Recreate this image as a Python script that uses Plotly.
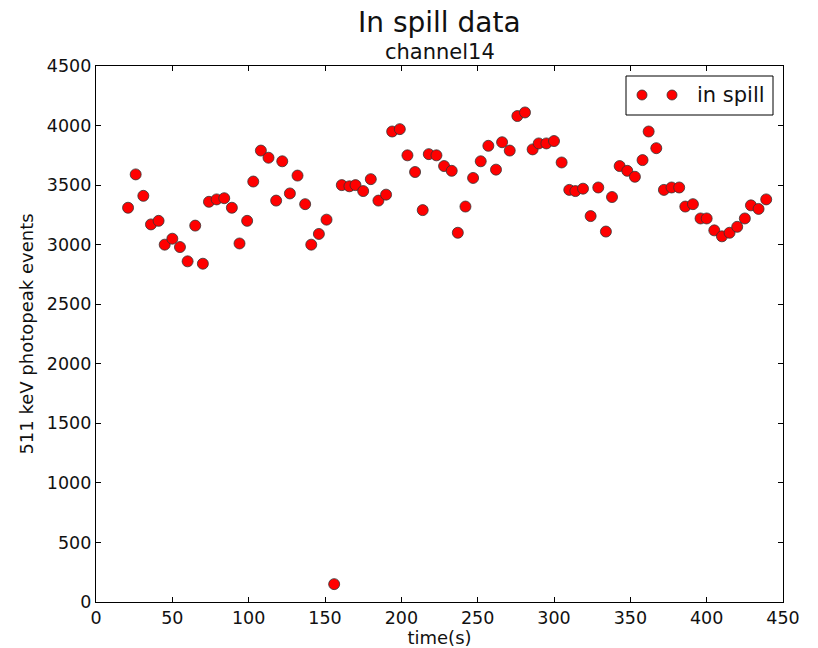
import plotly.graph_objects as go

time_s = [21, 26, 31, 36, 41, 45, 50, 55, 60, 65, 70, 74, 79, 84, 89, 94, 99, 103, 108, 113,
          118, 122, 127, 132, 137, 141, 146, 151, 156, 161, 166, 170, 175, 180, 185, 190, 194, 199,
          204, 209, 214, 218, 223, 228, 233, 237, 242, 247, 252, 257, 262, 266, 271, 276, 281, 286,
          290, 295, 300, 305, 310, 314, 319, 324, 329, 334, 338, 343, 348, 353, 358, 362, 367, 372,
          377, 382, 386, 391, 396, 400, 405, 410, 415, 420, 425, 429, 434, 439]
events = [3310, 3590, 3410, 3170, 3200, 3000, 3050, 2980, 2860, 3160, 2840, 3360, 3380, 3390,
          3310, 3010, 3200, 3530, 3790, 3730, 3370, 3700, 3430, 3580, 3340, 3000, 3090, 3210,
          150, 3500, 3490, 3500, 3450, 3550, 3370, 3420, 3950, 3970, 3750, 3610, 3290, 3760,
          3750, 3660, 3620, 3100, 3320, 3560, 3700, 3830, 3630, 3860, 3790, 4080, 4110, 3800,
          3850, 3850, 3870, 3690, 3460, 3450, 3470, 3240, 3480, 3110, 3400, 3660, 3620, 3570,
          3710, 3950, 3810, 3460, 3480, 3480, 3320, 3340, 3220, 3220, 3120, 3070, 3100, 3150,
          3220, 3330, 3300, 3380]
x_ticks = [0, 50, 100, 150, 200, 250, 300, 350, 400, 450]
y_ticks = [0, 500, 1000, 1500, 2000, 2500, 3000, 3500, 4000, 4500]

FONT = "DejaVu Sans"
W, H = 818, 648
ML, MR, MT, MB = 96, 35, 66, 46
PW, PH = W - ML - MR, H - MT - MB

fig = go.Figure()
fig.add_trace(go.Scatter(
    x=time_s, y=events, mode="markers", name="in spill",
    marker=dict(color="#ff0000", size=11, line=dict(color="#333333", width=0.8)),
    showlegend=False,
))

axis_common = dict(
    showgrid=False, zeroline=False, showline=True, linecolor="black", linewidth=1.3,
    mirror="ticks", ticks="inside", ticklen=5, tickwidth=1, tickcolor="black",
    tickfont=dict(family=FONT, size=17.5, color="#111111"), automargin=False,
)
fig.update_xaxes(range=[0, 450], tickvals=x_ticks, ticktext=[str(v) for v in x_ticks],
                 title=dict(text="time(s)", font=dict(family=FONT, size=18, color="#111111"), standoff=1),
                 **axis_common)
fig.update_yaxes(range=[0, 4500], tickvals=y_ticks, ticktext=[str(v) for v in y_ticks],
                 title=dict(text="511 keV photopeak events", font=dict(family=FONT, size=18, color="#111111"), standoff=8),
                 **axis_common)

# manual legend (matplotlib style with two markers)
def px_x(p):
    return (p - ML) / PW

def px_y(p):
    return (H - MB - p) / PH

shapes = [dict(type="rect", xref="paper", yref="paper",
               x0=px_x(626), x1=px_x(773), y0=px_y(115), y1=px_y(76),
               line=dict(color="black", width=1), fillcolor="white")]
for cx in (642, 672):
    r = 5
    shapes.append(dict(type="circle", xref="paper", yref="paper",
                       x0=px_x(cx - r), x1=px_x(cx + r), y0=px_y(95 + r), y1=px_y(95 - r),
                       line=dict(color="#333333", width=0.8), fillcolor="#ff0000"))

annotations = [
    dict(text="in spill", xref="paper", yref="paper", x=px_x(695), y=px_y(95),
         xanchor="left", yanchor="middle", showarrow=False,
         font=dict(family=FONT, size=21, color="#111111")),
    dict(text="In spill data", xref="paper", yref="paper", x=0.5, y=px_y(22),
         xanchor="center", yanchor="middle", showarrow=False,
         font=dict(family=FONT, size=28, color="#111111")),
    dict(text="channel14", xref="paper", yref="paper", x=0.5, y=px_y(52),
         xanchor="center", yanchor="middle", showarrow=False,
         font=dict(family=FONT, size=21, color="#111111")),
]

fig.update_layout(
    width=W, height=H, margin=dict(l=ML, r=MR, t=MT, b=MB),
    paper_bgcolor="white", plot_bgcolor="white",
    shapes=shapes, annotations=annotations, showlegend=False,
)
fig.write_html("out.html")
